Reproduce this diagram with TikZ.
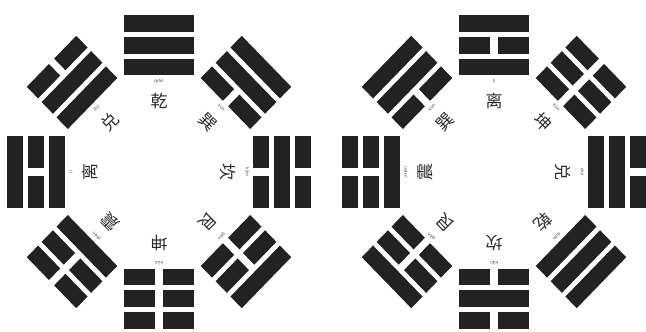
\documentclass[tikz,border=0pt]{standalone}
\usepackage{fontspec}
\newfontfamily\cjk{Noto Sans CJK SC}
\newfontfamily\pyfont{DejaVu Sans}
\definecolor{barcol}{HTML}{222222}
\definecolor{txtcol}{HTML}{2C2C2C}
\tikzset{
  yaobar/.style={fill=barcol, draw=none},
  hanzi/.style={font=\cjk\fontsize{17}{17}\selectfont, text=txtcol, inner sep=0pt},
  pinyin/.style={font=\pyfont\fontsize{4.4}{5}\selectfont, text=txtcol!85, inner sep=0pt},
}
% #1 centre, #2 name prefix, #3 list angle/inner/middle/outer/hanzi/pinyin
\newcommand\baguaring[3]{%
  \begin{scope}[shift={#1}, yscale=1.03]
    \foreach \ang/\a/\b/\c/\hz/\py [count=\i] in {#3} {
      \begin{scope}[rotate=\ang-90]
        \foreach \v [count=\k from 0] in {\a,\b,\c} {
          \pgfmathsetmacro\ylo{94+\k*21}
          \ifnum\v=1
            \fill[yaobar] (-35,\ylo) rectangle (35,\ylo+16);
          \else
            \fill[yaobar] (-35,\ylo) rectangle (-3.7,\ylo+16);
            \fill[yaobar] (3.7,\ylo) rectangle (35,\ylo+16);
          \fi
        }
      \end{scope}
      \node[hanzi, rotate=\ang-90] (#2h\i) at (\ang:69) {\hz};
      \node[pinyin, rotate=\ang-90] (#2p\i) at (\ang:88.5) {\py};
    }
  \end{scope}}
\begin{document}
\begin{tikzpicture}[x=1pt, y=1pt]
  \useasboundingbox (0,0) rectangle (646,332);
  % Earlier Heaven (Fu Xi) arrangement
  \baguaring{(159,160)}{L}{%
    90/1/1/1/乾/qián, 45/0/1/1/巽/xùn, 0/0/1/0/坎/kǎn, -45/0/0/1/艮/gèn,
    -90/0/0/0/坤/kūn, -135/1/0/0/震/zhèn, 180/1/0/1/离/lí, 135/1/1/0/兑/duì}
  % Later Heaven (King Wen) arrangement
  \baguaring{(494,160)}{R}{%
    90/1/0/1/离/lí, 45/0/0/0/坤/kūn, 0/1/1/0/兑/duì, -45/1/1/1/乾/qián,
    -90/0/1/0/坎/kǎn, -135/0/0/1/艮/gèn, 180/1/0/0/震/zhèn, 135/0/1/1/巽/xùn}
\end{tikzpicture}
\end{document}
